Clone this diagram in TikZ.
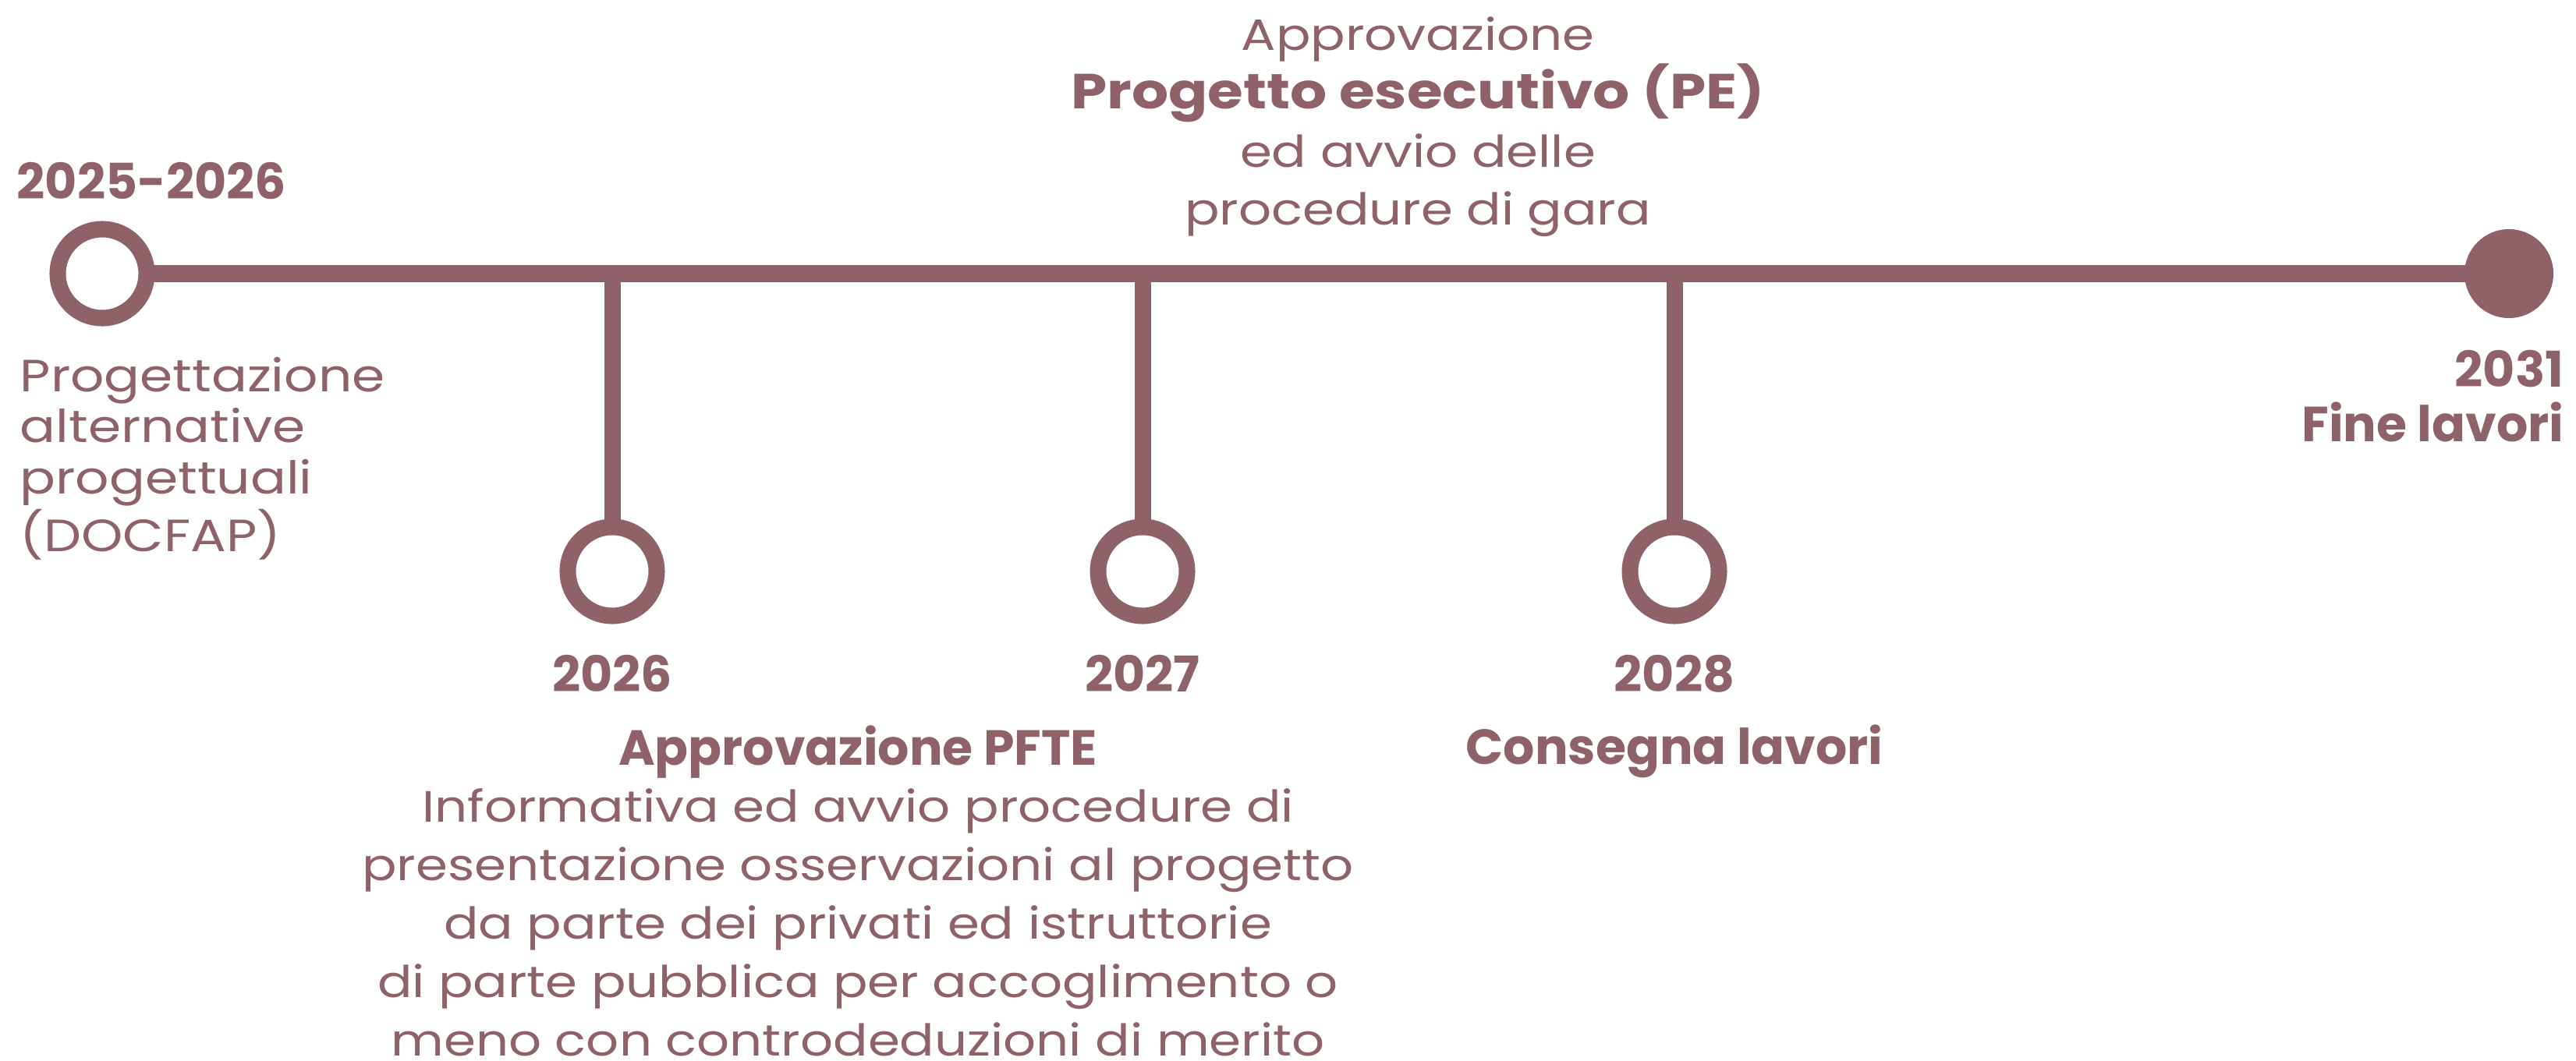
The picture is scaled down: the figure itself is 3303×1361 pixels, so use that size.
\documentclass[tikz,border=0pt]{standalone}
\usepackage{fontspec}
\setmainfont{Poppins}
\newfontfamily\widefont{Poppins}[FakeStretch=1.17]
\definecolor{plum}{RGB}{142,98,104}

\begin{document}
\begin{tikzpicture}[x=0.01cm, y=-0.01cm]

\tikzset{hole/.style = {shape=circle, draw=plum, line width=0.21cm, fill=white, minimum size=1.14cm, inner sep=0pt}}
\tikzset{dot/.style = {shape=circle, fill=plum, minimum size=1.14cm, inner sep=0pt}}
\tikzset{bar/.style = {draw=plum, line width=0.21cm}}
\tikzset{year/.style = {text=plum, inner sep=0pt, font=\bfseries\fontsize{18}{20}\selectfont}}
\tikzset{note/.style = {text=plum, inner sep=0pt, align=center, font=\widefont\fontsize{16}{21.3}\selectfont}}

\useasboundingbox (0,0) rectangle (3303,1361);

%timeline
\coordinate (t1) at (785,351);
\coordinate (t2) at (1465,351);
\coordinate (t3) at (2147,351);
\draw[bar] (131,351) -- (3217,351);
\draw[bar] (t1) -- (785,733);
\draw[bar] (t2) -- (1465,733);
\draw[bar] (t3) -- (2147,733);
\node[hole] (start) at (131,351) {};
\node[dot] (end) at (3217,351) {};
\node[hole] (d1) at (785,733) {};
\node[hole] (d2) at (1465,733) {};
\node[hole] (d3) at (2147,733) {};

%labels
\node[year, anchor=base west] (y0) at (21,256) {2025-2026};
\node[note, anchor=base west, align=left, font=\widefont\fontsize{16.5}{18.7}\selectfont] (n0) at (25,707)
  {Progettazione\\alternative\\progettuali\\(DOCFAP)};
\node[year, anchor=base] (y1) at (785,887) {2026};
\node[year, anchor=base] (h1) at (1100,981) {Approvazione PFTE};
\node[note, anchor=base] (n1) at (1100,1354)
  {Informativa ed avvio procedure di\\presentazione osservazioni al progetto\\da parte dei privati ed istruttorie\\di parte pubblica per accoglimento o\\meno con controdeduzioni di merito};
\node[year, anchor=base] (y2) at (1465,887) {2027};
\node[note, anchor=base] (n2) at (1818,289)
  {Approvazione\\{\fontsize{18}{21.3}\selectfont\bfseries Progetto esecutivo (PE)}\\ed avvio delle\\procedure di gara};
\node[year, anchor=base] (y3) at (2147,887) {2028};
\node[year, anchor=base] (h3) at (2147,980) {Consegna lavori};
\node[year, anchor=base east, align=right] (y4) at (3288,567) {2031\\Fine lavori};

\end{tikzpicture}
\end{document}
